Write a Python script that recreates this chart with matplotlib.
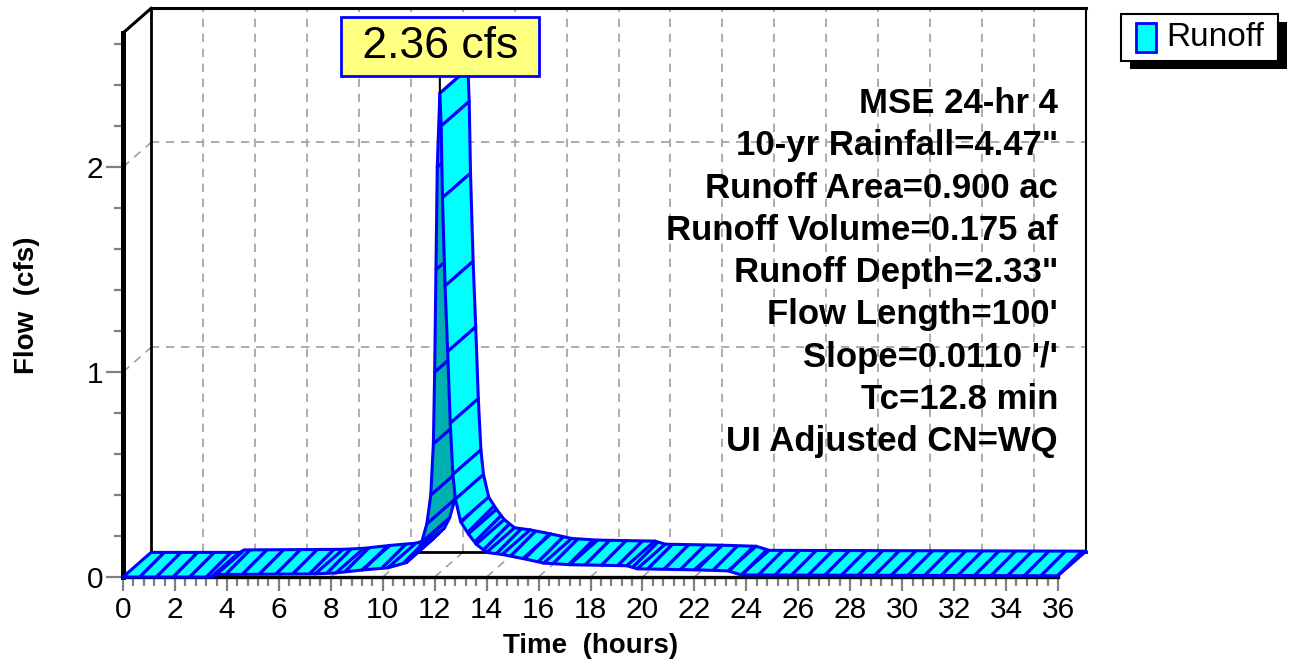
import matplotlib
matplotlib.use('Agg')
import matplotlib.pyplot as plt
from matplotlib.patches import Polygon, Rectangle
from matplotlib.ticker import MultipleLocator
import numpy as np

# hydrograph (hours, cfs)
hours = [0, 3.4, 3.6, 7.4, 8.2, 9.2, 10.2, 10.9, 11.3, 11.5, 11.7, 11.85, 11.95,
         12.0, 12.05, 12.1, 12.2, 12.25, 12.3, 12.4, 12.5, 12.6, 12.7, 12.8, 13.0,
         13.3, 13.6, 14.0, 14.6, 15.4, 16.2, 17.2, 19.4, 19.8, 22.0, 23.3, 23.8, 36]
flow = [0, 0, 0.012, 0.015, 0.02, 0.034, 0.045, 0.07, 0.12, 0.17, 0.26, 0.4, 0.65,
        1.0, 1.5, 2.0, 2.36, 2.2, 1.85, 1.42, 1.1, 0.75, 0.5, 0.38, 0.27,
        0.21, 0.16, 0.12, 0.11, 0.09, 0.068, 0.06, 0.055, 0.04, 0.035, 0.03, 0.01, 0.006]

peak_text = '2.36 cfs'
series_name = 'Runoff'
notes = ['MSE 24-hr 4',
         '10-yr Rainfall=4.47"',
         'Runoff Area=0.900 ac',
         'Runoff Volume=0.175 af',
         'Runoff Depth=2.33"',
         "Flow Length=100'",
         "Slope=0.0110 '/'",
         'Tc=12.8 min',
         'UI Adjusted CN=WQ']
x_ticks = list(range(0, 37, 2))
y_ticks = [0, 1, 2]
x_max = 36
y_max = 2.654

# depth of the pseudo-3d box, in data units
DX = 1.08
DY = 0.12

plt.rcParams['font.family'] = ['Liberation Sans', 'DejaVu Sans']
plt.rcParams['hatch.linewidth'] = 2.4

fig = plt.figure(figsize=(12.91, 6.63), dpi=100)
ax = fig.add_axes([123/1291, 86/663, 935/1291, 544/663])
ax.set_xlim(0, x_max)
ax.set_ylim(0, y_max)
ax.patch.set_visible(False)
ax.spines['top'].set_visible(False)
ax.spines['right'].set_visible(False)
ax.spines['left'].set_linewidth(3.6)
ax.spines['bottom'].set_linewidth(2.4)

ax.set_xticks(x_ticks)
ax.set_yticks(y_ticks)
ax.xaxis.set_minor_locator(MultipleLocator(0.4))
ax.yaxis.set_minor_locator(MultipleLocator(0.2))
ax.tick_params(which='both', direction='out', color='#808080', width=1.6, labelsize=21.5)
ax.tick_params(axis='x', which='major', length=10, pad=4)
ax.tick_params(axis='x', which='minor', length=6.5)
ax.tick_params(axis='y', which='major', length=12, pad=2)
ax.tick_params(axis='y', which='minor', length=6.5)
ax.set_xlabel('Time  (hours)', fontsize=20, fontweight='bold', labelpad=6)
ax.set_ylabel('Flow  (cfs)', fontsize=20, fontweight='bold', labelpad=34)

grid_kw = dict(color='#a0a0a0', lw=1.2, ls=(0, (5, 4)), clip_on=False, zorder=1)
# back wall grid
for x in x_ticks[1:-1]:
    ax.plot([x + DX, x + DX], [DY, y_max + DY], **grid_kw)
    ax.plot([x, x + DX], [0, DY], **grid_kw)
for y in y_ticks[1:]:
    ax.plot([DX, x_max + DX], [y + DY, y + DY], **grid_kw)
    ax.plot([0, DX], [y, y + DY], **grid_kw)

# box edges
edge_kw = dict(color='black', clip_on=False, zorder=1.5)
ax.plot([DX, DX], [DY, y_max + DY], lw=2, **edge_kw)
ax.plot([DX, x_max + DX], [y_max + DY, y_max + DY], lw=2.2, **edge_kw)
ax.plot([x_max + DX, x_max + DX], [DY, y_max + DY], lw=1.5, **edge_kw)
ax.plot([0, DX], [y_max, y_max + DY], lw=2.2, **edge_kw)
ax.plot([DX, x_max + DX], [DY, DY], lw=2, **edge_kw)

# ribbon, one quad per time step, drawn left to right
T = ax.transData
for i in range(len(hours) - 1):
    t0, t1 = hours[i], hours[i + 1]
    q0, q1 = flow[i], flow[i + 1]
    quad = [(t0, q0), (t1, q1), (t1 + DX, q1 + DY), (t0 + DX, q0 + DY)]
    p0, p1, pb = T.transform([(t0, q0), (t1, q1), (t0 + DX, q0 + DY)])
    s = p1 - p0
    d = pb - p0
    cross = s[0] * d[1] - s[1] * d[0]
    face = '#00ffff' if cross >= 0 else '#00b0b0'
    hatch = '//' if abs(s[1]) < 18 else None
    p = Polygon(quad, closed=True, fc=face, ec='#0000ff', lw=2.2,
                hatch=hatch, joinstyle='round', clip_on=False, zorder=3)
    if hasattr(p, 'set_hatch_linewidth'):
        p.set_hatch_linewidth(2.4)
    ax.add_patch(p)

# peak label
k = int(np.argmax(flow))
ax.annotate(' ' + peak_text + ' ', xy=(hours[k], flow[k]), xytext=(hours[k], 2.588),
            textcoords='data', ha='center', va='center', fontsize=32,
            bbox=dict(boxstyle='square,pad=0.2', fc='#ffff80', ec='#0000ff', lw=2),
            arrowprops=dict(arrowstyle='-', color='black', lw=1.5, shrinkA=0, shrinkB=0),
            annotation_clip=False, zorder=6)

# storm notes
for j, line in enumerate(notes):
    ax.text(1.0, 0.853 - j * 0.0777, line, transform=ax.transAxes, ha='right',
            va='baseline', fontsize=25, fontweight='bold', zorder=5)

# legend with solid shadow
ff = fig.transFigure
W, H = 1291, 663
fig.add_artist(Rectangle((1130/W, 1 - 69/H), 157/W, 47/H, transform=ff,
                         fc='black', ec='none'))
fig.add_artist(Rectangle((1121/W, 1 - 61/H), 157/W, 47/H, transform=ff,
                         fc='white', ec='black', lw=1.5))
fig.add_artist(Rectangle((1136/W, 1 - 52/H), 20/W, 29/H, transform=ff,
                         fc='#00ffff', ec='#0000ff', lw=2))
fig.text(1166/W, 1 - 38/H, series_name, fontsize=24, va='center', ha='left')

fig.savefig('out.png', dpi=100)
